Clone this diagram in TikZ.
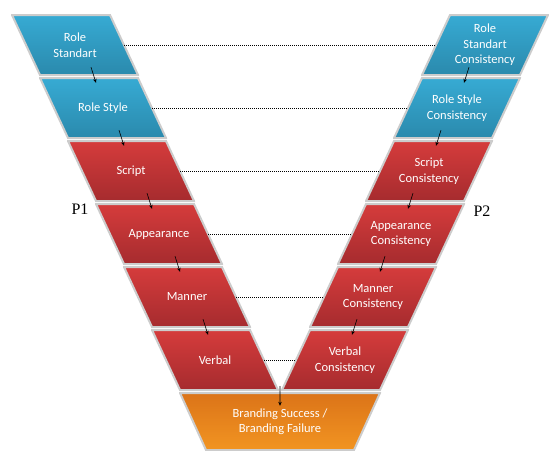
\documentclass[tikz,border=0pt]{standalone}
\usepackage{fontspec}
\setmainfont{Liberation Serif}
\newfontfamily\boxfont{Carlito}
\usetikzlibrary{arrows.meta, calc}
\definecolor{blueTop}{HTML}{37ABD4}
\definecolor{blueBot}{HTML}{2A89AC}
\definecolor{redTop}{HTML}{D63C3C}
\definecolor{redBot}{HTML}{A52B2E}
\definecolor{orgTop}{HTML}{DB7318}
\definecolor{orgBot}{HTML}{F29522}
\tikzstyle{bluefill} = [top color=blueTop, bottom color=blueBot]
\tikzstyle{redfill} = [top color=redTop, bottom color=redBot]
\tikzstyle{orgfill} = [top color=orgTop, bottom color=orgBot]
\tikzstyle{edge} = [draw=gray!40, line width=2pt]
\tikzstyle{stage} = [minimum width=128pt, minimum height=62pt, inner sep=0pt, text=white, align=center, font=\boxfont\fontsize{12.5}{15.5}\selectfont]
% slanted to the left at the top (P1 side)
\tikzstyle{lbox} = [stage, path picture={
    \path[edge, #1] ([shift={(1pt,-1pt)}]path picture bounding box.north west) -- ([shift={(-29pt,-1pt)}]path picture bounding box.north east)
      -- ([shift={(-1pt,1pt)}]path picture bounding box.south east) -- ([shift={(29pt,1pt)}]path picture bounding box.south west) -- cycle;}]
% slanted to the right at the top (P2 side)
\tikzstyle{rbox} = [stage, path picture={
    \path[edge, #1] ([shift={(29pt,-1pt)}]path picture bounding box.north west) -- ([shift={(-1pt,-1pt)}]path picture bounding box.north east)
      -- ([shift={(-29pt,1pt)}]path picture bounding box.south east) -- ([shift={(1pt,1pt)}]path picture bounding box.south west) -- cycle;}]
\tikzstyle{reg} = [-{Stealth[length=4pt, width=3.5pt]}, line width=0.6pt]
\tikzstyle{link} = [densely dotted, line width=1pt]

\begin{document}
\begin{tikzpicture}[x=1pt, y=-1pt]
  \useasboundingbox (0,0) rectangle (549,450);
  % P1 side
  \node[lbox=bluefill] (rs)   at (75,45)  {Role\\Standart};
  \node[lbox=bluefill] (rst)  at (103,108) {Role Style};
  \node[lbox=redfill]  (scr)  at (131,171) {Script};
  \node[lbox=redfill]  (app)  at (159,234) {Appearance};
  \node[lbox=redfill]  (man)  at (187,297) {Manner};
  \node[lbox=redfill]  (verb) at (215,360) {Verbal};

  % P2 side
  \node[rbox=bluefill] (rsc)   at (485,45)  {Role\\Standart\\Consistency};
  \node[rbox=bluefill] (rstc)  at (457,108) {Role Style\\Consistency};
  \node[rbox=redfill]  (scrc)  at (429,171) {Script\\Consistency};
  \node[rbox=redfill]  (appc)  at (401,234) {Appearance\\Consistency};
  \node[rbox=redfill]  (manc)  at (373,297) {Manner\\Consistency};
  \node[rbox=redfill]  (verbc) at (345,360) {Verbal\\Consistency};

  % result
  \node[stage, minimum width=202pt, minimum height=59pt, path picture={
      \path[edge, orgfill] ([shift={(1pt,-1pt)}]path picture bounding box.north west) -- ([shift={(-1pt,-1pt)}]path picture bounding box.north east)
        -- ([shift={(-27pt,1pt)}]path picture bounding box.south east) -- ([shift={(27pt,1pt)}]path picture bounding box.south west) -- cycle;}]
      (bf) at (280,421.5) {Branding Success /\\Branding Failure};

  \node[font=\fontsize{16}{18}\selectfont] (p1) at (80,209) {P1};
  \node[font=\fontsize{16}{18}\selectfont] (p2) at (482,211) {P2};

  % steps
  \draw[reg] ([xshift=16pt,yshift=9pt]rs.south)  -- ([xshift=-7pt,yshift=-6pt]rst.north);
  \draw[reg] ([xshift=16pt,yshift=9pt]rst.south) -- ([xshift=-7pt,yshift=-6pt]scr.north);
  \draw[reg] ([xshift=16pt,yshift=9pt]scr.south) -- ([xshift=-7pt,yshift=-6pt]app.north);
  \draw[reg] ([xshift=16pt,yshift=9pt]app.south) -- ([xshift=-7pt,yshift=-6pt]man.north);
  \draw[reg] ([xshift=16pt,yshift=9pt]man.south) -- ([xshift=-7pt,yshift=-6pt]verb.north);

  \draw[reg] ([xshift=-16pt,yshift=9pt]rsc.south)  -- ([xshift=7pt,yshift=-6pt]rstc.north);
  \draw[reg] ([xshift=-16pt,yshift=9pt]rstc.south) -- ([xshift=7pt,yshift=-6pt]scrc.north);
  \draw[reg] ([xshift=-16pt,yshift=9pt]scrc.south) -- ([xshift=7pt,yshift=-6pt]appc.north);
  \draw[reg] ([xshift=-16pt,yshift=9pt]appc.south) -- ([xshift=7pt,yshift=-6pt]manc.north);
  \draw[reg] ([xshift=-16pt,yshift=9pt]manc.south) -- ([xshift=7pt,yshift=-6pt]verbc.north);

  \draw[reg] ($(verb.south east)!0.5!(verbc.south west)+(0,-5)$) -- ([yshift=-14pt]bf.north);

  % matching pairs
  \draw[link] ([xshift=-15pt]rs.east)   -- ([xshift=15pt]rsc.west);
  \draw[link] ([xshift=-15pt]rst.east)  -- ([xshift=15pt]rstc.west);
  \draw[link] ([xshift=-15pt]scr.east)  -- ([xshift=15pt]scrc.west);
  \draw[link] ([xshift=-15pt]app.east)  -- ([xshift=15pt]appc.west);
  \draw[link] ([xshift=-15pt]man.east)  -- ([xshift=15pt]manc.west);
  \draw[link] ([xshift=-15pt]verb.east) -- ([xshift=15pt]verbc.west);
\end{tikzpicture}
\end{document}
